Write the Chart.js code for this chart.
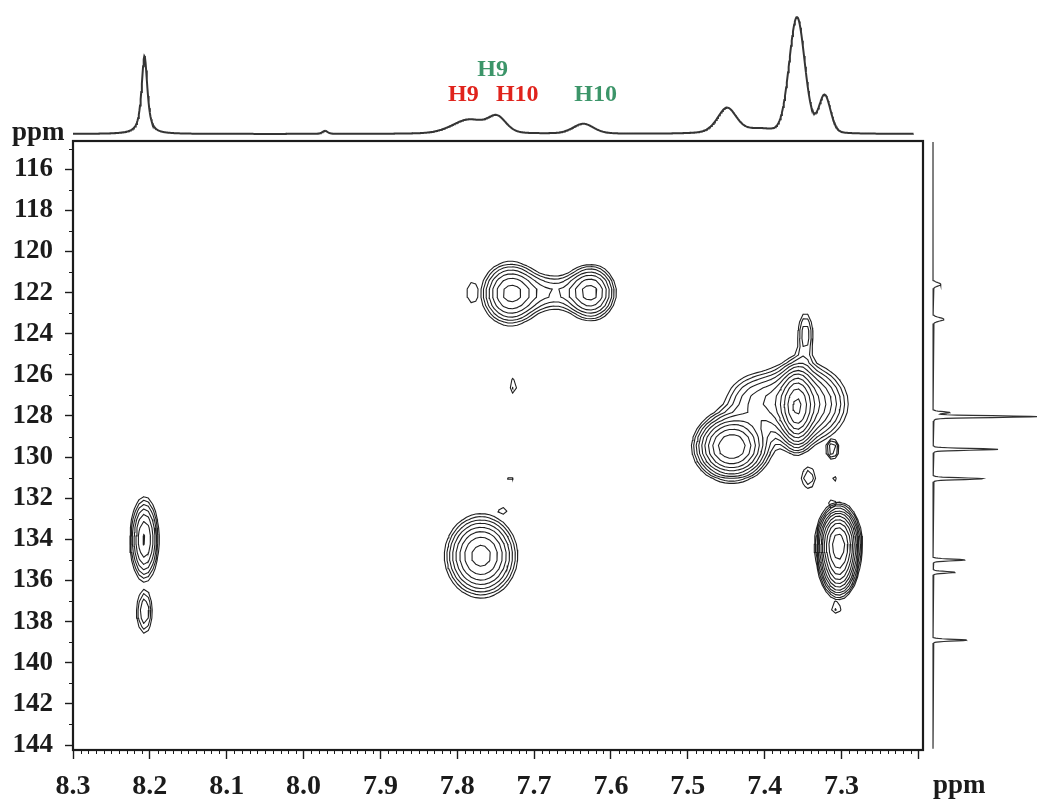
<!DOCTYPE html>
<html>
<head>
<meta charset="utf-8">
<title>HSQC</title>
<script src="https://cdn.jsdelivr.net/npm/chart.js@4.4.1/dist/chart.umd.min.js"></script>
<style>
  body { margin: 0; background: #fff; }
  #wrap { position: relative; width: 1037px; height: 806px; overflow: hidden; background: #fff; }
  #wrap canvas { position: absolute; }
  .unit { position: absolute; font: bold 27px/27px "Liberation Serif", "Times New Roman", serif; color: #1b1b1b; }
</style>
</head>
<body>
<div id="wrap">
  <canvas id="hsqc" width="1037" height="806" style="left:0;top:0"></canvas>
  <canvas id="proton" width="850" height="136" style="left:73px;top:0"></canvas>
  <canvas id="carbon" width="112" height="609" style="left:925px;top:141px"></canvas>
  <div class="unit" style="left:12px;top:118px">ppm</div>
  <div class="unit" style="left:933px;top:771px">ppm</div>
</div>
<script>
const SERIF = '"Liberation Serif", "Times New Roman", serif';
const INK = "#1b1b1b";

// axes (both reversed, ppm)
const hRange = [7.194, 8.3];
const cRange = [114.63, 144.24];
const hTicks = [7.2, 7.3, 7.4, 7.5, 7.6, 7.7, 7.8, 7.9, 8.0, 8.1, 8.2, 8.3];
const hTickLabels = ["", "7.3", "7.4", "7.5", "7.6", "7.7", "7.8", "7.9", "8.0", "8.1", "8.2", "8.3"];
const cTicks = [116, 118, 120, 122, 124, 126, 128, 130, 132, 134, 136, 138, 140, 142, 144];

// 1H spectrum on top: peak list
const hPeakPpm = [8.207, 7.972, 7.785, 7.748, 7.636, 7.449, 7.405, 7.358, 7.322];
const hPeakHeight = [78, 3, 14, 15, 10, 26, 4, 116, 38];
const hPeakHwhm = [0.0045, 0.004, 0.026, 0.014, 0.016, 0.015, 0.02, 0.012, 0.009];
const hPeakLor = [0.8, 0.5, 0.3, 0.3, 0.3, 0.4, 0, 0.1, 0.2];

// 13C projection on the right: peak list
const cPeakPpm = [121.6, 123.3, 127.83, 128.03, 129.62, 131.05, 135.0, 135.6, 138.9];
const cPeakHeight = [8, 11, 16, 104, 65, 50, 32, 22, 34];
const cPeakHwhm = [0.1, 0.1, 0.05, 0.05, 0.05, 0.05, 0.05, 0.05, 0.05];

// 2D cross peaks (group = peaks contoured together)
const xpGroup = ["a", "b", "c", "c", "c", "d", "e", "f", "g", "h", "i", "i", "j", "k", "l", "l", "l", "l", "l", "m", "n", "o"];
const xpH = [8.207, 8.207, 7.731, 7.626, 7.678, 7.780, 7.727, 7.731, 7.741, 7.769, 7.304, 7.304, 7.312, 7.307, 7.358, 7.352, 7.443, 7.415, 7.347, 7.312, 7.343, 7.310];
const xpC = [134.0, 137.5, 122.05, 122.0, 122.0, 122.0, 126.55, 131.1, 132.6, 134.8, 134.2, 135.6, 132.3, 137.3, 127.6, 127.4, 129.5, 127.2, 124.0, 129.6, 131.0, 131.1];
const xpWidthH = [0.0105, 0.008, 0.021, 0.018, 0.028, 0.01, 0.006, 0.006, 0.009, 0.024, 0.013, 0.012, 0.007, 0.008, 0.011, 0.032, 0.024, 0.025, 0.008, 0.007, 0.009, 0.005];
const xpWidthC = [1.15, 0.85, 0.85, 0.74, 0.6, 0.68, 0.5, 0.35, 0.35, 1.02, 0.85, 0.7, 0.35, 0.35, 1.0, 1.05, 0.8, 0.8, 0.85, 0.4, 0.5, 0.35];
const xpHeight = [5, 2.2, 5.2, 5.2, 2.0, 1.35, 1.35, 1.2, 1.25, 7.2, 16, 5, 1.35, 1.45, 9, 6, 10.6, 2.2, 2.0, 2.2, 1.7, 1.25];
const contourBase = 1;
const contourFactor = 1.3;
const contourCount = 14;

// assignment labels above the 1H trace
const assignText = ["H9", "H10", "H9", "H10"];
const assignPpm = [7.792, 7.722, 7.754, 7.62];
const assignColor = ["#e0231c", "#e0231c", "#3c9569", "#3c9569"];
const assignRow = [1, 1, 0, 1];

const shape = (d, w, eta) => {
  const u = d / w;
  return eta / (1 + u * u) + (1 - eta) * Math.exp(-Math.LN2 * u * u);
};

const protonTrace = [];
for (let v = hRange[1]; v >= 7.206; v -= 0.0008) {
  let s = 0;
  hPeakPpm.forEach((p, i) => { s += hPeakHeight[i] * shape(v - p, hPeakHwhm[i], hPeakLor[i]); });
  protonTrace.push({ x: v, y: s });
}

const carbonTrace = [];
for (let v = cRange[0] + 0.05; v <= cRange[1] - 0.05; v += 0.015) {
  let s = 0;
  cPeakPpm.forEach((p, i) => { s += cPeakHeight[i] * shape(v - p, cPeakHwhm[i], 0.15); });
  carbonTrace.push({ x: s, y: v });
}

// contour lines via marching squares on the cross-peak model
const CASES = [[], [[3, 0]], [[0, 1]], [[3, 1]], [[1, 2]], [[3, 0], [1, 2]], [[0, 2]], [[3, 2]],
  [[2, 3]], [[2, 0]], [[0, 1], [2, 3]], [[2, 1]], [[1, 3]], [[1, 0]], [[0, 3]], []];
const gx = [];
const gy = [];
for (let v = hRange[0]; v <= hRange[1] + 1e-9; v += 0.006) gx.push(v);
for (let v = cRange[0]; v <= cRange[1] + 1e-9; v += 0.4) gy.push(v);
const nx = gx.length;
const ny = gy.length;

const contourPts = [];
const marching = (f, level) => {
  for (let j = 0; j < ny - 1; j++) {
    for (let i = 0; i < nx - 1; i++) {
      const v0 = f[j * nx + i], v1 = f[j * nx + i + 1];
      const v2 = f[(j + 1) * nx + i + 1], v3 = f[(j + 1) * nx + i];
      const c = (v0 > level ? 1 : 0) | (v1 > level ? 2 : 0) | (v2 > level ? 4 : 0) | (v3 > level ? 8 : 0);
      if (c === 0 || c === 15) continue;
      const edge = (k) => {
        if (k === 0) return { x: gx[i] + (level - v0) / (v1 - v0) * (gx[i + 1] - gx[i]), y: gy[j] };
        if (k === 1) return { x: gx[i + 1], y: gy[j] + (level - v1) / (v2 - v1) * (gy[j + 1] - gy[j]) };
        if (k === 2) return { x: gx[i] + (level - v3) / (v2 - v3) * (gx[i + 1] - gx[i]), y: gy[j + 1] };
        return { x: gx[i], y: gy[j] + (level - v0) / (v3 - v0) * (gy[j + 1] - gy[j]) };
      };
      CASES[c].forEach(([a, b]) => {
        contourPts.push(edge(a), edge(b), { x: null, y: null });
      });
    }
  }
};

[...new Set(xpGroup)].forEach((g) => {
  const idx = xpGroup.map((v, i) => (v === g ? i : -1)).filter((i) => i >= 0);
  const field = new Float64Array(nx * ny);
  for (let j = 0; j < ny; j++) {
    for (let i = 0; i < nx; i++) {
      let s = 0;
      idx.forEach((k) => {
        const dx = (gx[i] - xpH[k]) / xpWidthH[k];
        const dy = (gy[j] - xpC[k]) / xpWidthC[k];
        s += xpHeight[k] * Math.exp(-0.5 * (dx * dx + dy * dy));
      });
      field[j * nx + i] = s;
    }
  }
  for (let k = 0; k < contourCount; k++) marching(field, contourBase * Math.pow(contourFactor, k));
});

// frame + minor ticks
const framePlugin = {
  id: "frame",
  afterDraw(chart) {
    const { ctx, chartArea: a, scales: { x, y } } = chart;
    ctx.save();
    ctx.strokeStyle = INK;
    ctx.lineWidth = 1;
    ctx.beginPath();
    for (let k = 720; k <= 830; k++) {
      if (k % 10 === 0) continue;
      const px = Math.round(x.getPixelForValue(k / 100)) + 0.5;
      ctx.moveTo(px, a.bottom);
      ctx.lineTo(px, a.bottom + 4);
    }
    for (let v = 115; v <= 144; v += 2) {
      const py = Math.round(y.getPixelForValue(v)) + 0.5;
      ctx.moveTo(a.left, py);
      ctx.lineTo(a.left - 4, py);
    }
    ctx.stroke();
    ctx.lineWidth = 2.2;
    ctx.strokeRect(a.left, a.top, a.right - a.left, a.bottom - a.top);
    ctx.restore();
  },
};

const assignPlugin = {
  id: "assign",
  afterDraw(chart) {
    const { ctx, scales: { x } } = chart;
    ctx.save();
    ctx.font = "bold 24px " + SERIF;
    ctx.textAlign = "center";
    ctx.textBaseline = "middle";
    assignText.forEach((t, i) => {
      ctx.fillStyle = assignColor[i];
      ctx.fillText(t, x.getPixelForValue(assignPpm[i]), assignRow[i] ? 95 : 70);
    });
    ctx.restore();
  },
};

const tickLabel = (v) => {
  const i = hTicks.findIndex((t) => Math.abs(t - v) < 1e-6);
  return i < 0 ? "" : hTickLabels[i];
};

new Chart(document.getElementById("hsqc"), {
  type: "scatter",
  data: {
    datasets: [
      {
        data: contourPts,
        showLine: true,
        spanGaps: false,
        borderColor: "#202020",
        borderWidth: 1.1,
        borderCapStyle: "round",
        pointRadius: 0,
      },
    ],
  },
  options: {
    responsive: false,
    animation: false,
    events: [],
    layout: { padding: { top: 141, right: 114, left: 0, bottom: 0 } },
    plugins: { legend: { display: false }, tooltip: { enabled: false } },
    scales: {
      x: {
        type: "linear",
        min: hRange[0],
        max: hRange[1],
        reverse: true,
        afterFit: (s) => { s.height = 56; },
        afterBuildTicks: (s) => { s.ticks = hTicks.map((v) => ({ value: v })); },
        ticks: {
          callback: tickLabel,
          autoSkip: false,
          maxRotation: 0,
          padding: 11,
          color: INK,
          font: { family: SERIF, size: 28, weight: "bold" },
        },
        grid: { drawOnChartArea: false, tickLength: 9, tickWidth: 1.4, tickColor: INK },
        border: { display: false },
      },
      y: {
        type: "linear",
        min: cRange[0],
        max: cRange[1],
        reverse: true,
        afterFit: (s) => { s.width = 73; },
        afterBuildTicks: (s) => { s.ticks = cTicks.map((v) => ({ value: v })); },
        ticks: {
          callback: (v) => String(v),
          autoSkip: false,
          padding: 12,
          color: INK,
          font: { family: SERIF, size: 27, weight: "bold" },
        },
        grid: { drawOnChartArea: false, tickLength: 8, tickWidth: 1.4, tickColor: INK },
        border: { display: false },
      },
    },
  },
  plugins: [framePlugin],
});

new Chart(document.getElementById("proton"), {
  type: "scatter",
  data: {
    datasets: [
      { data: protonTrace, showLine: true, borderColor: "#353535", borderWidth: 2, pointRadius: 0 },
    ],
  },
  options: {
    responsive: false,
    animation: false,
    events: [],
    layout: { padding: 0 },
    plugins: { legend: { display: false }, tooltip: { enabled: false } },
    scales: {
      x: { type: "linear", display: false, min: hRange[0], max: hRange[1], reverse: true },
      y: { type: "linear", display: false, min: -2, max: 134 },
    },
  },
  plugins: [assignPlugin],
});

new Chart(document.getElementById("carbon"), {
  type: "scatter",
  data: {
    datasets: [
      { data: carbonTrace, showLine: true, borderColor: "#303030", borderWidth: 1.2, pointRadius: 0 },
    ],
  },
  options: {
    responsive: false,
    animation: false,
    events: [],
    layout: { padding: 0 },
    plugins: { legend: { display: false }, tooltip: { enabled: false } },
    scales: {
      x: { type: "linear", display: false, min: -8, max: 104 },
      y: { type: "linear", display: false, min: cRange[0], max: cRange[1], reverse: true },
    },
  },
});
</script>
</body>
</html>
